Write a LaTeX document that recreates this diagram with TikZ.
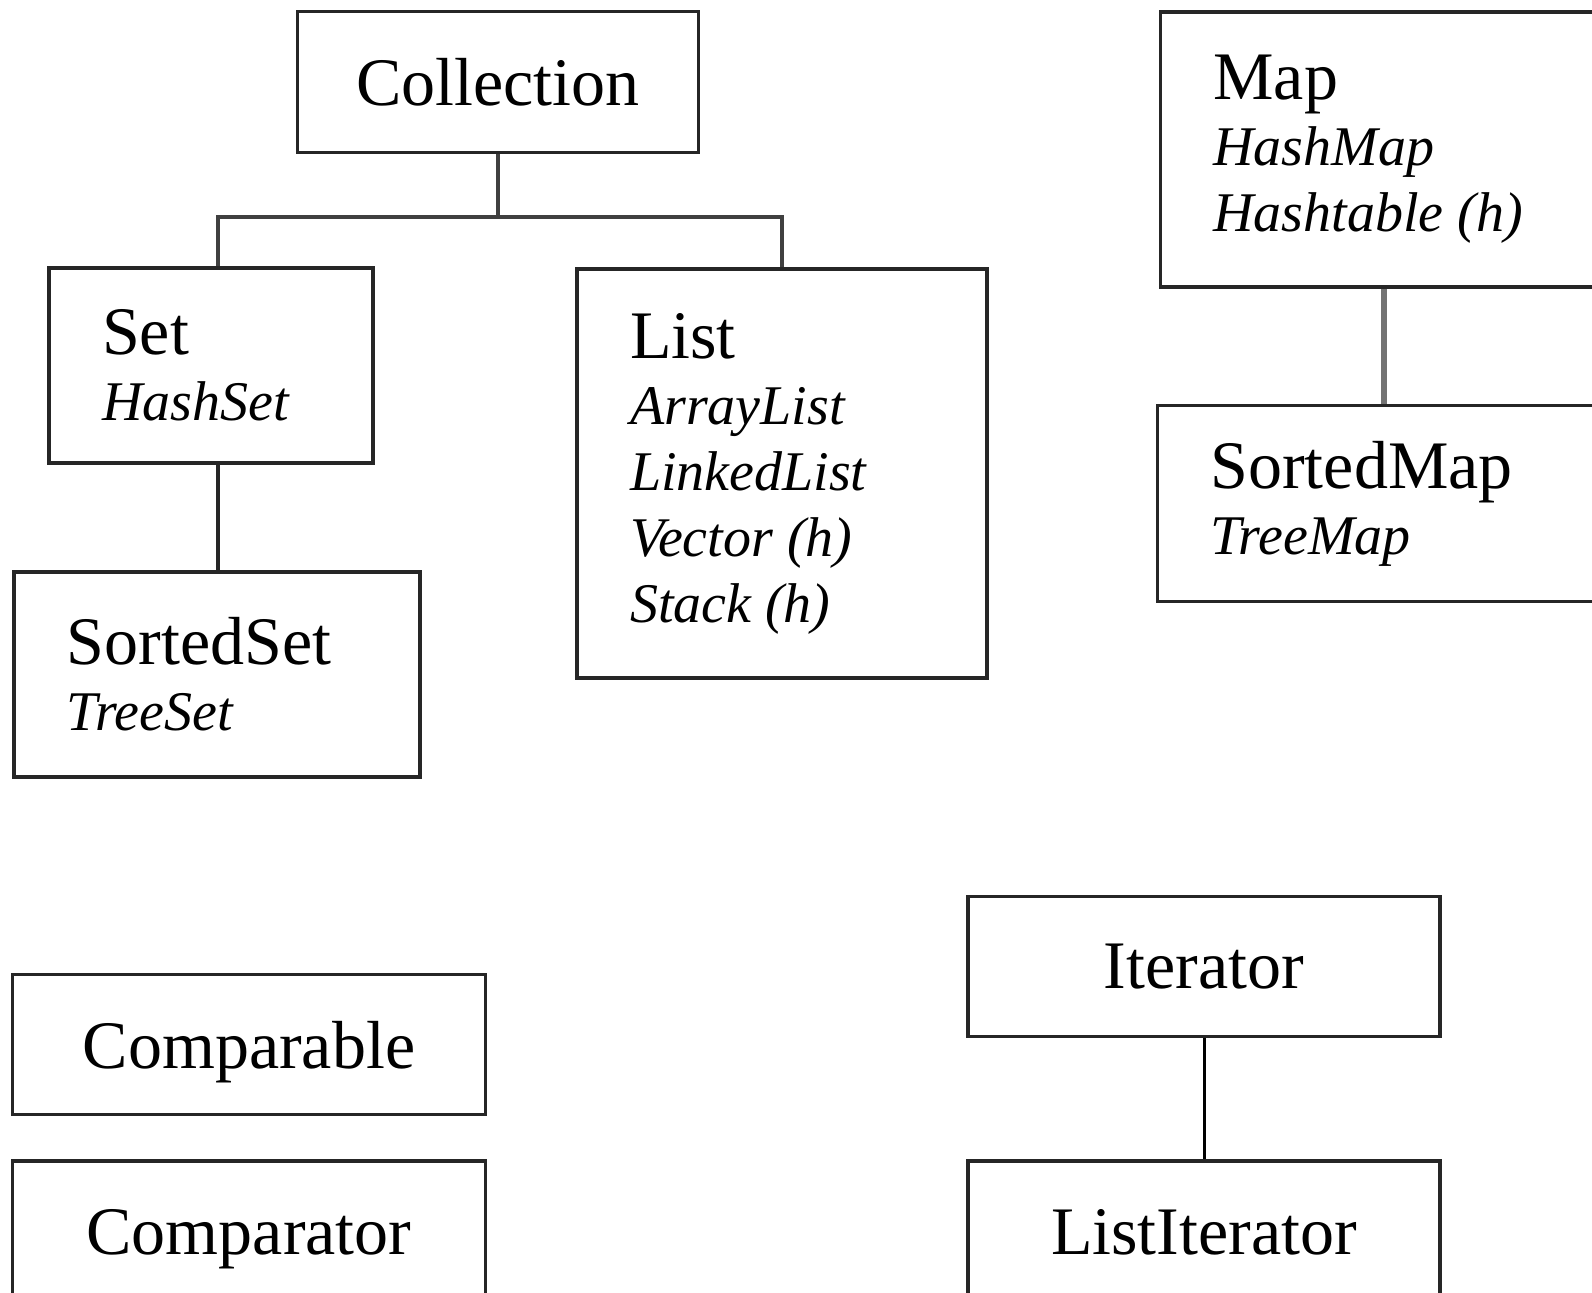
\documentclass[tikz,border=0pt]{standalone}
\usepackage{fontspec}
\setmainfont{Liberation Serif}
\usetikzlibrary{positioning}
\newcommand{\implfont}{\itshape\fontsize{28}{33}\selectfont}
\tikzset{
	ifacebox/.style = {draw=black!85, line width=1.75pt, inner sep=0pt,
		font=\fontsize{34}{33}\selectfont},
	plainbox/.style = {ifacebox, align=center, text depth=0pt, minimum width=236pt, minimum height=70pt},
	classbox/.style = {ifacebox, align=flush left, inner xsep=26.5pt},
	link/.style = {draw=black!75, line width=2pt}
}

\begin{document}
\begin{tikzpicture}[x=0.5pt, y=-0.5pt, node distance=20pt]
\useasboundingbox (0,0) rectangle (1592,1292);
\clip (0,0) rectangle (1592,1292);

% NODES

% collection tree
\node (collection) [plainbox, minimum width=200.5pt, minimum height=70.5pt] at (498,82) {Collection};
\node (set) [classbox, text width=109pt, minimum height=97.5pt] at (211,365.5) {Set\\\implfont HashSet};
\node (sortedset) [classbox, text width=150pt, minimum height=102.5pt, below=52.8pt of set, xshift=3pt] {SortedSet\\\implfont TreeSet};
\node (list) [classbox, text width=152pt, minimum height=204.5pt] at (782,473.5) {List\\\implfont ArrayList\\LinkedList\\Vector (h)\\Stack (h)};

% map tree
\node (map) [classbox, text width=170.5pt, minimum height=137.5pt] at (1384,149.5) {Map\\\implfont HashMap\\Hashtable (h)};
\node (sortedmap) [classbox, text width=173.5pt, minimum height=98pt, below=57.5pt of map] {SortedMap\\\implfont TreeMap};

% iterators, comparing
\node (iterator) [plainbox] at (1204,966.5) {Iterator};
\node (listiterator) [plainbox, minimum height=71pt, below=60.5pt of iterator] {ListIterator};
\node (comparable) [plainbox, minimum width=236.5pt] at (249,1044.7) {Comparable};
\node (comparator) [plainbox, minimum width=236.5pt, minimum height=71pt, below=21.4pt of comparable] {Comparator};

% CONNECTIONS
\draw [link] (collection.south) -- ++(0,63) coordinate (fork);
\draw [link] (fork) -| ([xshift=3.5pt]set.north);
\draw [link] (fork) -| (list.north);
\draw [link, draw=black!85, line width=1.6pt] ([xshift=3.5pt]set.south) -- ([xshift=3.5pt]set.south |- sortedset.north);
\draw [link, draw=black!55, line width=3pt] (map.south) -- (sortedmap.north);
\draw [link, draw=black, line width=1.5pt] (iterator.south) -- (iterator.south |- listiterator.north);

\end{tikzpicture}
\end{document}
